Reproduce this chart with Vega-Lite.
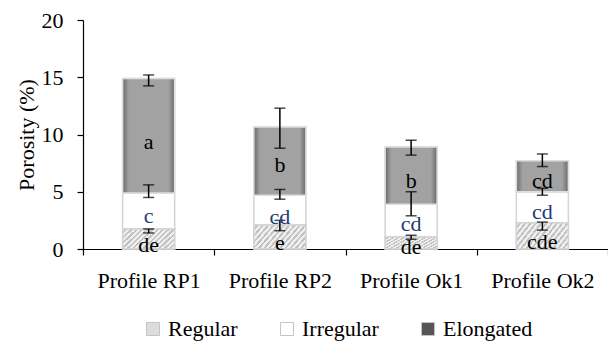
{
  "$schema": "https://vega.github.io/schema/vega-lite/v6.json",
  "autosize": "none",
  "width": 525,
  "height": 229,
  "padding": {"left": 83, "top": 20, "right": 0, "bottom": 93},
  "background": "white",
  "config": {
    "view": {"stroke": null},
    "font": "Liberation Serif",
    "style": {
      "guide-label": {"font": "Liberation Serif", "fontSize": 22, "fill": "black"},
      "guide-title": {"font": "Liberation Serif", "fontSize": 22, "fontWeight": "normal", "fill": "black"}
    },
    "axis": {"labelFont": "Liberation Serif", "titleFont": "Liberation Serif", "labelFontSize": 22, "titleFontSize": 22, "titleFontWeight": "normal", "labelColor": "black", "titleColor": "black", "domainColor": "black", "tickColor": "black", "domainWidth": 1.2, "tickWidth": 1.2, "tickSize": 6, "grid": false},
    "axisX": {"labelPadding": 15},
    "axisY": {"labelPadding": 14, "titlePadding": 3},
    "legend": {"labelFont": "Liberation Serif", "labelFontSize": 22, "labelColor": "black"}
  },
  "datasets": {
    "bars": [
      {"profile": "Profile RP1", "type": "Regular", "order": 1, "value": 1.75},
      {"profile": "Profile RP1", "type": "Irregular", "order": 2, "value": 3.15},
      {"profile": "Profile RP1", "type": "Elongated", "order": 3, "value": 10.0},
      {"profile": "Profile RP2", "type": "Regular", "order": 1, "value": 2.1},
      {"profile": "Profile RP2", "type": "Irregular", "order": 2, "value": 2.6},
      {"profile": "Profile RP2", "type": "Elongated", "order": 3, "value": 5.95},
      {"profile": "Profile Ok1", "type": "Regular", "order": 1, "value": 1.05},
      {"profile": "Profile Ok1", "type": "Irregular", "order": 2, "value": 2.85},
      {"profile": "Profile Ok1", "type": "Elongated", "order": 3, "value": 5.0},
      {"profile": "Profile Ok2", "type": "Regular", "order": 1, "value": 2.3},
      {"profile": "Profile Ok2", "type": "Irregular", "order": 2, "value": 2.7},
      {"profile": "Profile Ok2", "type": "Elongated", "order": 3, "value": 2.7}
    ],
    "err": [
      {"profile": "Profile RP1", "type": "Regular", "lo": 1.4, "hi": 1.75},
      {"profile": "Profile RP1", "type": "Irregular", "lo": 4.5, "hi": 5.6},
      {"profile": "Profile RP1", "type": "Elongated", "lo": 14.25, "hi": 15.2},
      {"profile": "Profile RP2", "type": "Regular", "lo": 1.6, "hi": 2.5},
      {"profile": "Profile RP2", "type": "Irregular", "lo": 4.35, "hi": 5.2},
      {"profile": "Profile RP2", "type": "Elongated", "lo": 8.8, "hi": 12.3},
      {"profile": "Profile Ok1", "type": "Regular", "lo": 0.85, "hi": 1.2},
      {"profile": "Profile Ok1", "type": "Irregular", "lo": 2.9, "hi": 5.0},
      {"profile": "Profile Ok1", "type": "Elongated", "lo": 8.2, "hi": 9.5},
      {"profile": "Profile Ok2", "type": "Regular", "lo": 1.65, "hi": 2.35},
      {"profile": "Profile Ok2", "type": "Irregular", "lo": 4.7, "hi": 5.3},
      {"profile": "Profile Ok2", "type": "Elongated", "lo": 7.2, "hi": 8.3}
    ],
    "labels": [
      {"profile": "Profile RP1", "type": "Regular", "label": "de", "ly": 0.35},
      {"profile": "Profile RP1", "type": "Irregular", "label": "c", "ly": 2.9},
      {"profile": "Profile RP1", "type": "Elongated", "label": "a", "ly": 9.35},
      {"profile": "Profile RP2", "type": "Regular", "label": "e", "ly": 0.5},
      {"profile": "Profile RP2", "type": "Irregular", "label": "cd", "ly": 2.8},
      {"profile": "Profile RP2", "type": "Elongated", "label": "b", "ly": 7.3},
      {"profile": "Profile Ok1", "type": "Regular", "label": "de", "ly": 0.2},
      {"profile": "Profile Ok1", "type": "Irregular", "label": "cd", "ly": 2.2},
      {"profile": "Profile Ok1", "type": "Elongated", "label": "b", "ly": 5.9},
      {"profile": "Profile Ok2", "type": "Regular", "label": "cde", "ly": 0.6},
      {"profile": "Profile Ok2", "type": "Irregular", "label": "cd", "ly": 3.2},
      {"profile": "Profile Ok2", "type": "Elongated", "label": "cd", "ly": 5.9}
    ]
  },
  "encoding": {
    "x": {
      "field": "profile", "type": "nominal",
      "sort": ["Profile RP1", "Profile RP2", "Profile Ok1", "Profile Ok2"],
      "scale": {"paddingInner": 0, "paddingOuter": 0},
      "axis": {"title": null, "labelAngle": 0, "tickBand": "extent", "labelLimit": 0, "labelFont": "Liberation Serif", "labelFontSize": 22, "labelPadding": 15}
    }
  },
  "layer": [
    {
      "data": {"name": "bars"},
      "transform": [{"stack": "value", "groupby": ["profile"], "sort": [{"field": "order", "order": "ascending"}], "as": ["y0", "y1"]}],
      "layer": [
        {
          "mark": {"type": "bar", "size": 52, "stroke": "#d4d4d4", "strokeWidth": 1.5},
          "encoding": {
            "y": {"field": "y0", "type": "quantitative", "scale": {"domain": [0, 20], "nice": false},
              "axis": {"values": [0, 5, 10, 15, 20], "title": "Porosity (%)", "labelFont": "Liberation Serif", "titleFont": "Liberation Serif", "labelFontSize": 22, "titleFontSize": 22, "titleFontWeight": "normal", "labelPadding": 14, "titlePadding": 3}},
            "y2": {"field": "y1"},
            "color": {
              "field": "type", "type": "nominal",
              "scale": {"domain": ["Regular", "Irregular", "Elongated"], "range": ["#dcdcdc", "#ffffff", "#555555"]},
              "legend": {"title": null, "orient": "none", "direction": "horizontal", "legendX": 59, "legendY": 298, "symbolType": "square", "symbolSize": 170, "symbolStrokeColor": "#c4c4c4", "symbolStrokeWidth": 1, "labelOffset": 4, "columnPadding": 38, "labelFont": "Liberation Serif", "labelFontSize": 22}
            }
          }
        },
        {
          "transform": [{"filter": "datum.type === 'Regular'"}],
          "mark": {"type": "bar", "size": 52, "stroke": "#d4d4d4", "strokeWidth": 1.5,
            "fill": {"gradient": "linear", "x1": 0, "y1": 0, "x2": 1.4, "y2": 0.56, "stops": [
              {"offset": 0, "color": "#efefef"}, {"offset": 0.035, "color": "#efefef"}, {"offset": 0.035, "color": "#c2c2c2"}, {"offset": 0.0625, "color": "#c2c2c2"},
              {"offset": 0.0625, "color": "#efefef"}, {"offset": 0.0975, "color": "#efefef"}, {"offset": 0.0975, "color": "#c2c2c2"}, {"offset": 0.125, "color": "#c2c2c2"},
              {"offset": 0.125, "color": "#efefef"}, {"offset": 0.16, "color": "#efefef"}, {"offset": 0.16, "color": "#c2c2c2"}, {"offset": 0.1875, "color": "#c2c2c2"},
              {"offset": 0.1875, "color": "#efefef"}, {"offset": 0.2225, "color": "#efefef"}, {"offset": 0.2225, "color": "#c2c2c2"}, {"offset": 0.25, "color": "#c2c2c2"},
              {"offset": 0.25, "color": "#efefef"}, {"offset": 0.285, "color": "#efefef"}, {"offset": 0.285, "color": "#c2c2c2"}, {"offset": 0.3125, "color": "#c2c2c2"},
              {"offset": 0.3125, "color": "#efefef"}, {"offset": 0.3475, "color": "#efefef"}, {"offset": 0.3475, "color": "#c2c2c2"}, {"offset": 0.375, "color": "#c2c2c2"},
              {"offset": 0.375, "color": "#efefef"}, {"offset": 0.41, "color": "#efefef"}, {"offset": 0.41, "color": "#c2c2c2"}, {"offset": 0.4375, "color": "#c2c2c2"},
              {"offset": 0.4375, "color": "#efefef"}, {"offset": 0.4725, "color": "#efefef"}, {"offset": 0.4725, "color": "#c2c2c2"}, {"offset": 0.5, "color": "#c2c2c2"},
              {"offset": 0.5, "color": "#efefef"}, {"offset": 0.535, "color": "#efefef"}, {"offset": 0.535, "color": "#c2c2c2"}, {"offset": 0.5625, "color": "#c2c2c2"},
              {"offset": 0.5625, "color": "#efefef"}, {"offset": 0.5975, "color": "#efefef"}, {"offset": 0.5975, "color": "#c2c2c2"}, {"offset": 0.625, "color": "#c2c2c2"},
              {"offset": 0.625, "color": "#efefef"}, {"offset": 0.66, "color": "#efefef"}, {"offset": 0.66, "color": "#c2c2c2"}, {"offset": 0.6875, "color": "#c2c2c2"},
              {"offset": 0.6875, "color": "#efefef"}, {"offset": 0.7225, "color": "#efefef"}, {"offset": 0.7225, "color": "#c2c2c2"}, {"offset": 0.75, "color": "#c2c2c2"},
              {"offset": 0.75, "color": "#efefef"}, {"offset": 0.785, "color": "#efefef"}, {"offset": 0.785, "color": "#c2c2c2"}, {"offset": 0.8125, "color": "#c2c2c2"},
              {"offset": 0.8125, "color": "#efefef"}, {"offset": 0.8475, "color": "#efefef"}, {"offset": 0.8475, "color": "#c2c2c2"}, {"offset": 0.875, "color": "#c2c2c2"},
              {"offset": 0.875, "color": "#efefef"}, {"offset": 0.91, "color": "#efefef"}, {"offset": 0.91, "color": "#c2c2c2"}, {"offset": 0.9375, "color": "#c2c2c2"},
              {"offset": 0.9375, "color": "#efefef"}, {"offset": 0.9725, "color": "#efefef"}, {"offset": 0.9725, "color": "#c2c2c2"}, {"offset": 1, "color": "#c2c2c2"}
            ]}},
          "encoding": {"y": {"field": "y0", "type": "quantitative"}, "y2": {"field": "y1"}}
        },
        {
          "transform": [{"filter": "datum.type === 'Elongated'"}],
          "mark": {"type": "bar", "size": 52, "stroke": "#dedede", "strokeWidth": 1.5,
            "fill": {"gradient": "linear", "x1": 0, "y1": 0, "x2": 1, "y2": 0, "stops": [
              {"offset": 0, "color": "#6a6a6a"}, {"offset": 0.12, "color": "#a2a2a2"}, {"offset": 0.88, "color": "#a2a2a2"}, {"offset": 1, "color": "#6a6a6a"}
            ]}},
          "encoding": {"y": {"field": "y0", "type": "quantitative"}, "y2": {"field": "y1"}}
        }
      ]
    },
    {
      "data": {"name": "err"},
      "layer": [
        {"mark": {"type": "rule", "color": "black", "strokeWidth": 1.5},
         "encoding": {"y": {"field": "lo", "type": "quantitative"}, "y2": {"field": "hi"}}},
        {"mark": {"type": "tick", "color": "black", "size": 11, "thickness": 1.5},
         "encoding": {"y": {"field": "lo", "type": "quantitative"}}},
        {"mark": {"type": "tick", "color": "black", "size": 11, "thickness": 1.5},
         "encoding": {"y": {"field": "hi", "type": "quantitative"}}}
      ]
    },
    {
      "data": {"name": "labels"},
      "mark": {"type": "text", "fontSize": 22, "baseline": "middle", "align": "center", "font": "Liberation Serif"},
      "encoding": {
        "y": {"field": "ly", "type": "quantitative"},
        "text": {"field": "label"},
        "color": {"condition": {"test": "datum.type === 'Irregular'", "value": "#1f3a78"}, "value": "black"}
      }
    }
  ]
}
